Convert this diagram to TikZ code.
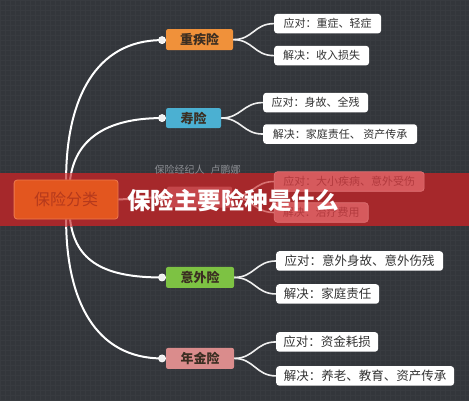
\documentclass[tikz,border=0pt]{standalone}
\usepackage{fontspec}
\setmainfont{Noto Sans CJK SC}
\usetikzlibrary{calc}
\pgfdeclarelayer{bg}\pgfdeclarelayer{lines}\pgfdeclarelayer{band}\pgfdeclarelayer{over}
\pgfsetlayers{bg,lines,band,over,main}
\definecolor{bgc}{HTML}{33363B}
\definecolor{gridc}{HTML}{383B40}
\definecolor{bandc}{HTML}{A6282B}
\definecolor{rootc}{HTML}{E3561F}
\definecolor{rootb}{HTML}{EE7A4E}
\definecolor{roott}{HTML}{B5391C}
\definecolor{zjc}{HTML}{F0913A}
\definecolor{sxc}{HTML}{4BB0D2}
\definecolor{ywc}{HTML}{7DC243}
\definecolor{njc}{HTML}{DA8C8C}
\definecolor{hidc}{HTML}{C4464A}
\definecolor{rleaf}{HTML}{D65A5D}
\definecolor{rleafb}{HTML}{E07476}
\definecolor{rleaft}{HTML}{B23A3E}
\definecolor{pinkl}{HTML}{D87272}
\definecolor{leaft}{HTML}{333333}
\definecolor{catt}{HTML}{3B2E22}
\definecolor{wmc}{HTML}{8B8D92}
\tikzset{
  cat/.style={rounded corners=2pt, minimum height=21pt, inner sep=0pt, font=\fontsize{13}{13}\selectfont\bfseries, text=catt},
  leaf/.style={anchor=west, fill=white, rounded corners=3pt, minimum height=19.5pt, inner sep=0pt, text=leaft, font=\fontsize{11}{11}\selectfont},
  leafb/.style={leaf, font=\fontsize{12.5}{12.5}\selectfont},
  rleafs/.style={leaf, fill=rleaf, draw=rleafb, line width=0.6pt, text=rleaft},
  conn/.style={draw=white, line width=2pt},
  pconn/.style={draw=pinkl, line width=2pt},
  lconn/.style={draw=white!88!gray, line width=1.6pt},
  plconn/.style={draw=pinkl, line width=1.6pt},
  dot/.style={circle, fill=white!88!gray, draw=white, line width=0.8pt, minimum size=7pt, inner sep=0pt},
}
\begin{document}
\begin{tikzpicture}[x=1pt,y=-1pt]
\begin{pgfonlayer}{bg}
\fill[bgc] (0,0) rectangle (469,400);
\draw[gridc, line width=0.3pt, step=5pt] (0,0) grid (469,400);
\end{pgfonlayer}
\useasboundingbox (0,0) rectangle (469,400);
% band
\begin{pgfonlayer}{band}
\fill[bandc] (0,173) rectangle (469,226);
\end{pgfonlayer}
% root
\node[rounded corners=3pt, fill=rootc, draw=rootb, line width=0.8pt, minimum width=104pt, minimum height=39pt, inner sep=0pt, text=roott, font=\fontsize{16}{16}\selectfont] (root) at (66,199.5) {保险分类};
% categories
\node[cat, fill=zjc, minimum width=67pt] (zj) at (199.5,39.5) {重疾险};
\node[cat, fill=sxc, minimum width=55pt, minimum height=20pt] (sx) at (193.5,118) {寿险};
\node[cat, fill=hidc, minimum width=65pt] (yl) at (199.5,197) {};
\node[cat, fill=ywc, minimum width=68pt] (yw) at (200,277.5) {意外险};
\node[cat, fill=njc, minimum width=68pt] (nj) at (200,358.5) {年金险};
% dots
\node[dot] (dzj) at (162,40) {};
\node[dot] (dsx) at (162,118) {};
\node[dot, fill=pinkl!80!white, draw=pinkl!60!white] (dyl) at (162,197) {};
\node[dot] (dyw) at (162,277.5) {};
\node[dot] (dnj) at (162,358.5) {};
% leaves
\node[leaf, minimum width=107pt] (zj1) at (274,23.5) {应对：重症、轻症};
\node[leaf, minimum width=95pt] (zj2) at (274,55.5) {解决：收入损失};
\node[leaf, minimum width=105pt] (sx1) at (263,102.5) {应对：身故、全残};
\node[leaf, minimum width=154pt] (sx2) at (263,134) {解决：家庭责任、 资产传承};
\node[rleafs, minimum width=150pt] (yl1) at (274,181.5) {应对：大小疾病、意外受伤};
\node[rleafs, minimum width=94pt] (yl2) at (274,212.5) {解决：治疗费用};
\node[leafb, minimum width=167pt] (yw1) at (276,261) {应对：意外身故、意外伤残};
\node[leafb, minimum width=103pt] (yw2) at (276,294) {解决：家庭责任};
\node[leafb, minimum width=102pt] (nj1) at (276,342) {应对：资金耗损};
\node[leafb, minimum width=178pt] (nj2) at (276,376) {解决：养老、教育、资产传承};
% main connectors
\begin{pgfonlayer}{lines}
\draw[conn] (root.north) .. controls (66,100) and (95,40) .. (dzj.center);
\draw[conn] ($(root.north)+(4,0)$) .. controls (75,140) and (105,118) .. (dsx.center);
\draw[conn] ($(root.south)+(4,0)$) .. controls (75,262) and (105,277.5) .. (dyw.center);
\draw[conn] (root.south) .. controls (66,300) and (95,358.5) .. (dnj.center);
\draw[lconn] (zj.east) .. controls +(20,0) and +(-20,0) .. (zj1.west);
\draw[lconn] (zj.east) .. controls +(20,0) and +(-20,0) .. (zj2.west);
\draw[lconn] (sx.east) .. controls +(20,0) and +(-20,0) .. (sx1.west);
\draw[lconn] (sx.east) .. controls +(20,0) and +(-20,0) .. (sx2.west);
\draw[lconn] (yw.east) .. controls +(20,0) and +(-20,0) .. (yw1.west);
\draw[lconn] (yw.east) .. controls +(20,0) and +(-20,0) .. (yw2.west);
\draw[lconn] (nj.east) .. controls +(20,0) and +(-20,0) .. (nj1.west);
\draw[lconn] (nj.east) .. controls +(20,0) and +(-20,0) .. (nj2.west);
\end{pgfonlayer}
\begin{pgfonlayer}{over}
\begin{scope}
\clip (0,173) rectangle (469,226);
\draw[pconn] (root.north) .. controls (66,100) and (95,40) .. (dzj.center);
\draw[pconn] ($(root.north)+(4,0)$) .. controls (75,140) and (105,118) .. (dsx.center);
\draw[pconn] ($(root.south)+(4,0)$) .. controls (75,262) and (105,277.5) .. (dyw.center);
\draw[pconn] (root.south) .. controls (66,300) and (95,358.5) .. (dnj.center);
\end{scope}
\draw[pconn] (root.east) -- (dyl.center);
\draw[plconn] (yl.east) .. controls +(20,0) and +(-20,0) .. (yl1.west);
\draw[plconn] (yl.east) .. controls +(20,0) and +(-20,0) .. (yl2.west);
\end{pgfonlayer}
% watermark and title
\node[text=wmc, font=\fontsize{10}{10}\selectfont, inner sep=0pt] (wm) at (197.5,169.5) {保险经纪人\hspace{6pt}卢鹏娜};
\node[text=white, font=\fontsize{23.5}{24}\selectfont\bfseries, inner sep=0pt] (title) at (233,200) {保险主要险种是什么};
\end{tikzpicture}
\end{document}
